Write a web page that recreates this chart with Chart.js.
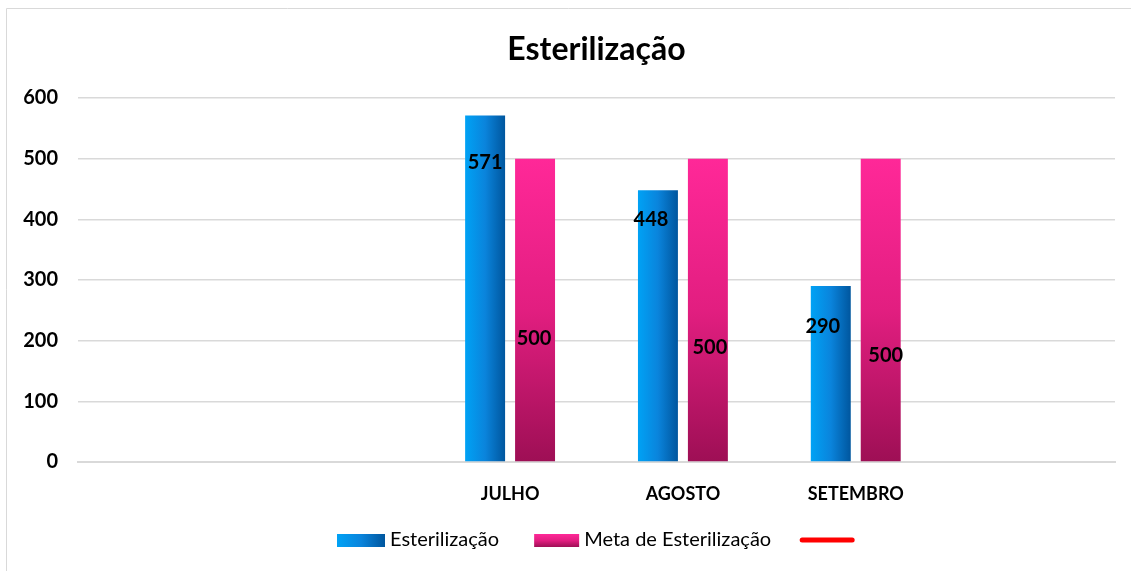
<!DOCTYPE html>
<html><head><meta charset="utf-8">
<script src="https://cdn.jsdelivr.net/npm/chart.js@4/dist/chart.umd.min.js"></script>
<style>html,body{margin:0;padding:0;background:#fff;}#wrap{width:1131px;height:571px;position:relative;}</style>
</head><body><div id="wrap"><canvas id="c" width="1131" height="571"></canvas></div>
<script>
const categories = ['', '', 'JULHO', 'AGOSTO', 'SETEMBRO', ''];
const esterilizacao = [null, null, 571, 448, 290, null];
const metaEsterilizacao = [null, null, 500, 500, 500, null];
const serieLinha = [null, null, null, null, null, null];
const yTicks = [0, 100, 200, 300, 400, 500, 600];
const chartTitle = 'Esterilização';

const FONT = 'Lato, "Open Sans", sans-serif';

function blueGrad(ctx, x0, x1) {
  const g = ctx.createLinearGradient(x0, 0, x1, 0);
  g.addColorStop(0, '#00a2f5'); g.addColorStop(0.5, '#0a84dc'); g.addColorStop(1, '#00569e');
  return g;
}
function pinkGrad(ctx, y0, y1) {
  const g = ctx.createLinearGradient(0, y0, 0, y1);
  g.addColorStop(0, '#ff2898'); g.addColorStop(0.5, '#e21e80'); g.addColorStop(1, '#9e0f55');
  return g;
}

const framePlugin = {
  id: 'frame',
  beforeDraw(chart) {
    const ctx = chart.ctx;
    ctx.save();
    ctx.strokeStyle = '#d9d9d9';
    ctx.lineWidth = 1;
    ctx.beginPath();
    ctx.moveTo(6.5, 571); ctx.lineTo(6.5, 8.5); ctx.lineTo(1131, 8.5);
    ctx.stroke();
    ctx.restore();
  },
  afterDraw(chart) {
    const ctx = chart.ctx;
    const ca = chart.chartArea;
    ctx.save();
    ctx.font = 'bold 32px ' + FONT;
    ctx.fillStyle = '#000';
    ctx.textAlign = 'center';
    ctx.textBaseline = 'middle';
    ctx.fillText(chartTitle, (ca.left + ca.right) / 2, 50);
    ctx.restore();
  }
};

const gradientPlugin = {
  id: 'grad',
  beforeDatasetsDraw(chart) {
    const ctx = chart.ctx;
    [0, 1].forEach(di => {
      const meta = chart.getDatasetMeta(di);
      meta.data.forEach(el => {
        if (isNaN(el.y) || isNaN(el.x)) return;
        const w = el.width;
        const g = di === 0 ? blueGrad(ctx, el.x - w / 2, el.x + w / 2) : pinkGrad(ctx, el.y, el.base);
        el.options = Object.assign({}, el.options, { backgroundColor: g });
      });
    });
  }
};

const labelPlugin = {
  id: 'vlabels',
  afterDatasetsDraw(chart, args, opts) {
    const ctx = chart.ctx;
    const ys = chart.scales.y;
    ctx.save();
    ctx.font = 'bold 20px ' + FONT;
    ctx.fillStyle = '#000';
    ctx.textAlign = 'center';
    ctx.textBaseline = 'middle';
    [0, 1].forEach(di => {
      const meta = chart.getDatasetMeta(di);
      const anchors = opts.anchors[di];
      const dx = opts.dx[di];
      meta.data.forEach((el, i) => {
        const v = chart.data.datasets[di].data[i];
        if (v == null) return;
        ctx.fillText(String(v), el.x + dx[i], ys.getPixelForValue(anchors[i]));
      });
    });
    ctx.restore();
  }
};

const legendPlugin = {
  id: 'customLegend',
  afterDraw(chart) {
    const ctx = chart.ctx;
    const ds = chart.data.datasets;
    const cy = 540;
    ctx.save();
    ctx.font = '20px ' + FONT;
    ctx.fillStyle = '#000';
    ctx.textBaseline = 'middle';
    ctx.textAlign = 'left';
    let x = 337;
    ctx.fillStyle = blueGrad(ctx, x, x + 48); ctx.fillRect(x, cy - 6, 48, 13);
    x += 53;
    ctx.fillStyle = '#000'; ctx.fillText(ds[0].label, x, cy);
    x += ctx.measureText(ds[0].label).width + 35;
    ctx.fillStyle = pinkGrad(ctx, cy - 6, cy + 7); ctx.fillRect(x, cy - 6, 45, 13);
    x += 50;
    ctx.fillStyle = '#000'; ctx.fillText(ds[1].label, x, cy);
    x += ctx.measureText(ds[1].label).width + 31;
    ctx.strokeStyle = ds[2].borderColor; ctx.lineWidth = 5; ctx.lineCap = 'round';
    ctx.beginPath(); ctx.moveTo(x, cy); ctx.lineTo(x + 50, cy); ctx.stroke();
    ctx.restore();
  }
};

new Chart(document.getElementById('c'), {
  type: 'bar',
  data: {
    labels: categories,
    datasets: [
      { label: 'Esterilização', data: esterilizacao, backgroundColor: '#0a84dc', barPercentage: 0.8, categoryPercentage: 0.578, order: 2 },
      { label: 'Meta de Esterilização', data: metaEsterilizacao, backgroundColor: '#e21e80', barPercentage: 0.8, categoryPercentage: 0.578, order: 2 },
      { type: 'line', label: '', data: serieLinha, borderColor: '#ff0000', backgroundColor: '#ff0000', borderWidth: 4, pointRadius: 0, order: 1 }
    ]
  },
  options: {
    responsive: false,
    animation: false,
    layout: { padding: { left: 20, right: 16, top: 98, bottom: 57 } },
    plugins: {
      title: { display: false },
      legend: { display: false },
      tooltip: { enabled: false },
      vlabels: {
        anchors: [[0, 0, 493, 399, 224, 0], [0, 0, 204, 188, 175, 0]],
        dx: [[0, 0, 0, -7, -8, 0], [0, 0, -1, 2, 5, 0]]
      }
    },
    scales: {
      x: {
        afterFit(s) { s.height = 52; },
        grid: { display: false },
        border: { display: true, color: '#d9d9d9', width: 2 },
        ticks: { color: '#000', font: { family: FONT, size: 18, weight: 'bold' }, padding: 13 }
      },
      y: {
        min: 0, max: 600,
        afterBuildTicks(s) { s.ticks = yTicks.map(v => ({ value: v })); },
        afterFit(s) { s.width = 58; },
        grid: { color: '#d9d9d9', lineWidth: 1.5, drawTicks: false },
        border: { display: false },
        ticks: { color: '#000', font: { family: FONT, size: 20, weight: 'bold' }, padding: 20 }
      }
    }
  },
  plugins: [framePlugin, gradientPlugin, labelPlugin, legendPlugin]
});
</script>
</body></html>
